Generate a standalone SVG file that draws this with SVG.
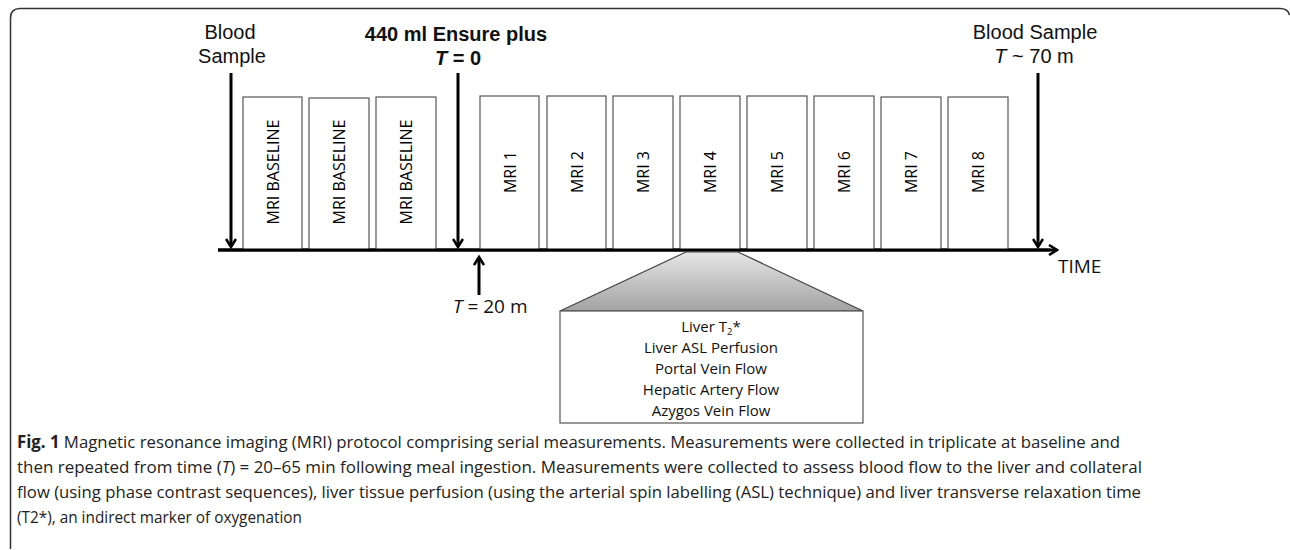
<svg xmlns="http://www.w3.org/2000/svg" width="1290" height="550" viewBox="0 0 1290 550">
<defs>
<marker id="chev" viewBox="0 0 12 12" refX="10" refY="6" markerWidth="12" markerHeight="12" markerUnits="userSpaceOnUse" orient="auto">
<polyline points="2,1 10,6 2,11" fill="none" stroke="#000" stroke-width="2.6"/>
</marker>
<linearGradient id="grad" x1="0" y1="0" x2="0" y2="1">
<stop offset="0" stop-color="#e6e6e6"/>
<stop offset="1" stop-color="#a2a2a2"/>
</linearGradient>
<style>
.box{fill:#fff;stroke:#555;stroke-width:1.2}
.lbl{font-family:"Open Sans",sans-serif;font-size:16px;fill:#000;text-anchor:middle;dominant-baseline:central}
.arial{font-family:"Liberation Sans",Arial,sans-serif;font-size:20px;fill:#111;text-anchor:middle}
.cal{font-family:"Open Sans",sans-serif;fill:#111}
.arr{stroke:#000;stroke-width:3;fill:none;marker-end:url(#chev)}
.cap{font-family:"Open Sans",sans-serif;font-size:17px;fill:#222}
</style>
</defs>
<rect width="1290" height="550" fill="#fff"/>
<path d="M10.5,549 L10.5,18 Q10.5,8.5 20,8.5 L1280,8.5 Q1288,8.5 1289.5,15" fill="none" stroke="#333" stroke-width="1.5"/>

<g id="connectors">
<line class="arr" x1="218" y1="250" x2="1057" y2="250"/>
<line class="arr" x1="231" y1="73" x2="231" y2="247"/>
<line class="arr" x1="458" y1="73" x2="458" y2="247"/>
<line class="arr" x1="1038" y1="73" x2="1038" y2="247"/>
<line class="arr" x1="479" y1="295" x2="479" y2="257"/>
</g>

<g id="labels">
<text class="arial" x="230" y="39">Blood</text>
<text class="arial" x="232" y="63">Sample</text>
<text class="arial" x="456" y="41" font-weight="bold">440 ml Ensure plus</text>
<text class="arial" x="458" y="65" font-weight="bold"><tspan font-style="italic">T</tspan> = 0</text>
<text class="arial" x="1035" y="39">Blood Sample</text>
<text class="arial" x="1034" y="63"><tspan font-style="italic">T</tspan> ~ 70 m</text>
<text class="cal" x="1058" y="273" font-size="19">TIME</text>
<text class="cal" x="453" y="313" font-size="19"><tspan font-style="italic">T</tspan> = 20 m</text>
</g>

<g id="baseline1"><rect class="box" x="243" y="97" width="59" height="153"/><text class="lbl" transform="translate(272.5,172) rotate(-90)" textLength="105" lengthAdjust="spacingAndGlyphs">MRI BASELINE</text></g>
<g id="baseline2"><rect class="box" x="309" y="98" width="60" height="152"/><text class="lbl" transform="translate(339,172) rotate(-90)" textLength="105" lengthAdjust="spacingAndGlyphs">MRI BASELINE</text></g>
<g id="baseline3"><rect class="box" x="376" y="97" width="60" height="153"/><text class="lbl" transform="translate(406,172) rotate(-90)" textLength="105" lengthAdjust="spacingAndGlyphs">MRI BASELINE</text></g>
<g id="mri1"><rect class="box" x="480" y="96" width="59" height="154"/><text class="lbl" transform="translate(509.5,172) rotate(-90)">MRI 1</text></g>
<g id="mri2"><rect class="box" x="547" y="96" width="59" height="154"/><text class="lbl" transform="translate(576.5,172) rotate(-90)">MRI 2</text></g>
<g id="mri3"><rect class="box" x="613" y="96" width="60" height="154"/><text class="lbl" transform="translate(643,172) rotate(-90)">MRI 3</text></g>
<g id="mri4"><rect class="box" x="680" y="96" width="60" height="154"/><text class="lbl" transform="translate(710,172) rotate(-90)">MRI 4</text></g>
<g id="mri5"><rect class="box" x="747" y="96" width="60" height="154"/><text class="lbl" transform="translate(777,172) rotate(-90)">MRI 5</text></g>
<g id="mri6"><rect class="box" x="814" y="96" width="60" height="154"/><text class="lbl" transform="translate(844,172) rotate(-90)">MRI 6</text></g>
<g id="mri7"><rect class="box" x="881" y="97" width="60" height="153"/><text class="lbl" transform="translate(911,172) rotate(-90)">MRI 7</text></g>
<g id="mri8"><rect class="box" x="948" y="97" width="60" height="153"/><text class="lbl" transform="translate(978,172) rotate(-90)">MRI 8</text></g>

<line x1="218" y1="250" x2="1050" y2="250" stroke="#000" stroke-width="3"/>

<g id="detail">
<polygon points="686,252 738,252 863,311 560,311" fill="url(#grad)" stroke="#444" stroke-width="1.2"/>
<rect class="box" x="560" y="311" width="303" height="112"/>
<g class="cal" font-size="15" text-anchor="middle">
<text x="711" y="332">Liver T<tspan font-size="9.5" dy="3">2</tspan><tspan dy="-3">*</tspan></text>
<text x="711" y="353">Liver ASL Perfusion</text>
<text x="711" y="374">Portal Vein Flow</text>
<text x="711" y="395">Hepatic Artery Flow</text>
<text x="711" y="416">Azygos Vein Flow</text>
</g>
</g>

<g id="caption">
<text class="cap" x="17" y="448" textLength="1103" lengthAdjust="spacingAndGlyphs"><tspan font-weight="bold">Fig. 1</tspan> Magnetic resonance imaging (MRI) protocol comprising serial measurements. Measurements were collected in triplicate at baseline and</text>
<text class="cap" x="17" y="473" textLength="1125" lengthAdjust="spacingAndGlyphs">then repeated from time (<tspan font-style="italic">T</tspan>) = 20–65 min following meal ingestion. Measurements were collected to assess blood flow to the liver and collateral</text>
<text class="cap" x="17" y="498" textLength="1124" lengthAdjust="spacingAndGlyphs">flow (using phase contrast sequences), liver tissue perfusion (using the arterial spin labelling (ASL) technique) and liver transverse relaxation time</text>
<text class="cap" x="17" y="523" textLength="285" lengthAdjust="spacingAndGlyphs">(T2*), an indirect marker of oxygenation</text>
</g>
</svg>
